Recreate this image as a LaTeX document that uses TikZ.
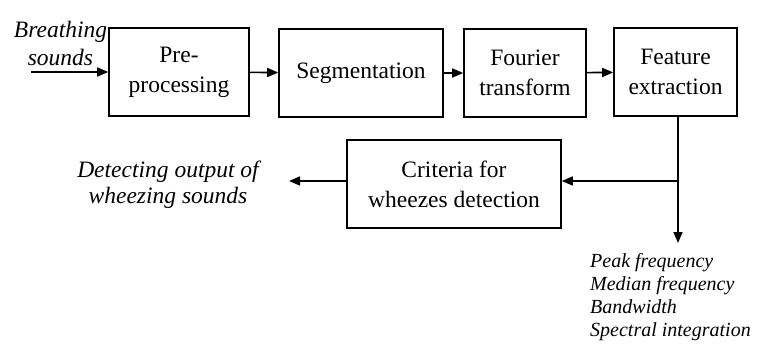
\documentclass[tikz,border=0pt]{standalone}
\usepackage{fontspec}
\setmainfont{Liberation Serif}
\usetikzlibrary{arrows.meta}
\tikzset{
  blk/.style={draw, line width=1.6pt, minimum height=88pt, align=center, inner sep=0pt,
    font=\fontsize{23.5}{30}\selectfont},
  lbl/.style={align=center, inner sep=0pt, font=\fontsize{23.5}{28}\selectfont\itshape},
  arr/.style={line width=1.6pt, -{Triangle[length=11pt,width=9pt]}},
  ln/.style={line width=1.6pt}
}
\begin{document}
\begin{tikzpicture}[x=1pt,y=-1pt]
\useasboundingbox (0,0) rectangle (758,345);
\node[blk, minimum width=140pt] (pre) at (179,72) {Pre-\\processing};
\node[blk, minimum width=164pt] (seg) at (361,73) {Segmentation};
\node[blk, minimum width=122pt] (fft) at (525,73) {Fourier\\transform};
\node[blk, minimum width=123pt] (fe) at (675.5,72) {Feature\\extraction};
\node[blk, minimum width=214pt] (crit) at (454,184) {Criteria for\\wheezes detection};
\node[lbl] (in) at (60.5,43) {Breathing\\sounds};
\node[lbl, font=\fontsize{23.5}{26}\selectfont\itshape] (out) at (168,185) {Detecting output of\\wheezing sounds};
\node[align=left, inner sep=0pt, anchor=north west, font=\fontsize{20}{23}\selectfont\itshape] (feat) at (590,253) {Peak frequency\\Median frequency\\Bandwidth\\Spectral integration};
\coordinate (src) at (31,72);
\coordinate (j) at (678,181);
\coordinate (dn) at (678,243);
\coordinate (tip) at (289,181);
\draw[arr] (src) -- (pre.west |- src);
\draw[arr] (pre) -- (seg);
\draw[arr] (seg) -- (fft);
\draw[arr] (fft) -- (fe);
\draw[arr] (fe.south -| j) -- (dn);
\draw[arr] (j) -- (j -| crit.east);
\draw[arr] (crit.west |- j) -- (tip);
\end{tikzpicture}
\end{document}
